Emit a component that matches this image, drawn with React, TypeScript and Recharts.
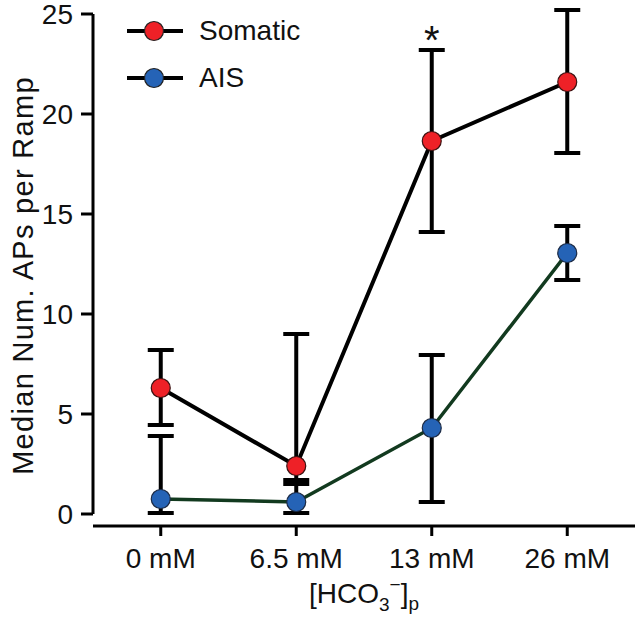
import {
  LineChart,
  Line,
  XAxis,
  YAxis,
  ErrorBar,
  Legend,
  Label,
  ReferenceLine,
  ReferenceDot,
} from "recharts";

const CATEGORIES = ["0 mM", "6.5 mM", "13 mM", "26 mM"];

// medians with the range of each error bar
const SOMATIC_MEDIAN = [6.3, 2.4, 18.65, 21.6];
const SOMATIC_LOW = [4.45, 1.7, 14.1, 18.05];
const SOMATIC_HIGH = [8.2, 9.0, 23.2, 25.2];

const AIS_MEDIAN = [0.75, 0.6, 4.3, 13.05];
const AIS_LOW = [0.05, 0.05, 0.6, 11.7];
const AIS_HIGH = [3.9, 1.5, 7.95, 14.4];

const Y_TICKS = [0, 5, 10, 15, 20, 25];
const SIGNIFICANT = ["13 mM"];

const FONT = "'Liberation Sans', Arial, Helvetica, sans-serif";
const RED = "#ee2127";
const BLUE = "#2563b6";
const GREEN = "#123a1f";

const SERIES = [
  { name: "Somatic", color: RED },
  { name: "AIS", color: BLUE },
];

const data = CATEGORIES.map((cat, i) => ({
  cat,
  somatic: SOMATIC_MEDIAN[i],
  somaticErr: [SOMATIC_MEDIAN[i] - SOMATIC_LOW[i], SOMATIC_HIGH[i] - SOMATIC_MEDIAN[i]],
  ais: AIS_MEDIAN[i],
  aisErr: [AIS_MEDIAN[i] - AIS_LOW[i], AIS_HIGH[i] - AIS_MEDIAN[i]],
}));

const renderLegend = () => (
  <div style={{ display: "flex", flexDirection: "column", fontFamily: FONT }}>
    {SERIES.map((s) => (
      <div key={s.name} style={{ display: "flex", alignItems: "center", height: 47 }}>
        <svg width={58} height={24}>
          <line x1={1} x2={57} y1={12} y2={12} stroke="#000" strokeWidth={4} />
          <circle cx={28} cy={12} r={9.5} fill={s.color} stroke="#222" strokeWidth={1.2} />
        </svg>
        <span style={{ marginLeft: 15, fontSize: 28, color: "#111" }}>{s.name}</span>
      </div>
    ))}
  </div>
);

const YTitle = ({ viewBox }: any) => {
  const cx = 33;
  const cy = viewBox.y + viewBox.height / 2 + 8;
  return (
    <text
      x={cx}
      y={cy}
      transform={`rotate(-90, ${cx}, ${cy})`}
      textAnchor="middle"
      fontFamily={FONT}
      fontSize={29}
      letterSpacing={1.3}
      fill="#111"
    >
      Median Num. APs per Ramp
    </text>
  );
};

const XTitle = ({ viewBox }: any) => {
  const cx = viewBox.x + viewBox.width / 2;
  return (
    <text x={cx} y={603} textAnchor="middle" fontFamily={FONT} fontSize={28} fill="#111">
      [HCO
      <tspan dy={8} fontSize={19}>3</tspan>
      <tspan dy={-20} fontSize={19}>−</tspan>
      <tspan dy={12}>]</tspan>
      <tspan dy={7} fontSize={19}>p</tspan>
    </text>
  );
};

const Asterisk = ({ cx, cy }: any) => (
  <text x={cx} y={cy + 4} textAnchor="middle" fontFamily={FONT} fontSize={40} fill="#111">
    *
  </text>
);

export default function App() {
  return (
    <div style={{ width: 640, height: 617, background: "#fff" }}>
      <style>{"body{margin:0}"}</style>
      <LineChart
        width={640}
        height={617}
        data={data}
        margin={{ top: 9, right: 5, bottom: 0, left: 0 }}
      >
        <XAxis
          dataKey="cat"
          scale="band"
          height={91}
          tickSize={10}
          tickMargin={12}
          axisLine={{ stroke: "#000", strokeWidth: 3 }}
          tickLine={{ stroke: "#000", strokeWidth: 3 }}
          tick={{ fontSize: 28, fill: "#111", fontFamily: FONT }}
        >
          <Label content={XTitle} />
        </XAxis>
        <XAxis xAxisId="frame" type="number" domain={[0, 1]} hide />
        <YAxis
          width={93}
          type="number"
          domain={[-0.6, 25.25]}
          ticks={Y_TICKS}
          interval={0}
          axisLine={false}
          tickSize={12}
          tickMargin={8}
          tickLine={{ stroke: "#000", strokeWidth: 3 }}
          tick={{ fontSize: 28, fill: "#111", fontFamily: FONT }}
        >
          <Label content={YTitle} />
        </YAxis>
        <ReferenceLine
          xAxisId="frame"
          segment={[
            { x: 0, y: 0 },
            { x: 0, y: 25 },
          ]}
          stroke="#000"
          strokeWidth={3}
        />
        <Legend
          content={renderLegend}
          layout="vertical"
          align="center"
          verticalAlign="middle"
          wrapperStyle={{ top: 7, left: 126, width: "auto", height: "auto" }}
        />
        <Line
          dataKey="ais"
          name="AIS"
          stroke={GREEN}
          strokeWidth={3.5}
          dot={{ r: 9.5, fill: BLUE, stroke: "#1c2a44", strokeWidth: 1.2 }}
          activeDot={false}
          isAnimationActive={false}
        >
          <ErrorBar dataKey="aisErr" direction="y" width={13} stroke="#000" strokeWidth={4} />
        </Line>
        <Line
          dataKey="somatic"
          name="Somatic"
          stroke="#000"
          strokeWidth={4}
          dot={{ r: 9.5, fill: RED, stroke: "#3a1111", strokeWidth: 1.2 }}
          activeDot={false}
          isAnimationActive={false}
        >
          <ErrorBar dataKey="somaticErr" direction="y" width={13} stroke="#000" strokeWidth={4} />
        </Line>
        {SIGNIFICANT.map((c) => (
          <ReferenceDot
            key={c}
            x={c}
            y={SOMATIC_HIGH[CATEGORIES.indexOf(c)]}
            r={0}
            shape={Asterisk}
          />
        ))}
      </LineChart>
    </div>
  );
}
